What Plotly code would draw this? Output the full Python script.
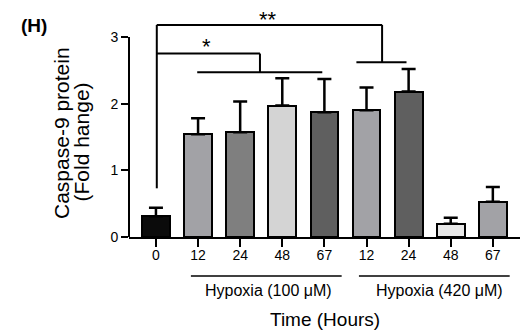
import plotly.graph_objects as go

# ---- data ----
tick_labels = ["0", "12", "24", "48", "67", "12", "24", "48", "67"]
means = [0.31, 1.54, 1.57, 1.97, 1.87, 1.90, 2.18, 0.20, 0.53]
err_up = [0.13, 0.24, 0.46, 0.41, 0.50, 0.34, 0.34, 0.09, 0.22]
bar_colors = ["#0b0b0b", "#a2a2a6", "#7f7f7f", "#d4d4d4", "#5f5f5f",
              "#a2a2a6", "#5f5f5f", "#e8e8e8", "#a2a2a6"]
groups = ["Hypoxia (100 μM)", "Hypoxia (420 μM)"]
group_span = [(0.83, 4.41), (4.82, 8.40)]
group_label_x = [2.68, 6.74]
# significance brackets: list of line segments (x0, y0, x1, y1) in data units
brackets_star2 = [(0.02, 3.18, 5.37, 3.18), (0.02, 3.18, 0.02, 0.73),
                  (5.37, 3.18, 5.37, 2.62), (4.76, 2.62, 5.95, 2.62)]
brackets_star1 = [(0.02, 2.75, 2.47, 2.75), (2.47, 2.75, 2.47, 2.47),
                  (0.98, 2.47, 3.95, 2.47)]
sig_labels = [("*", 1.21, 2.86), ("**", 2.66, 3.26)]

FONT = "Arial, Liberation Sans, Helvetica, sans-serif"
x = list(range(len(means)))

# page coords helpers (window px -> paper), body has 8px margin
PL, PR, PT, PB = 129, 524, 8, 237
def px(wx):
    return (wx - PL) / (PR - PL)
def py(wy):
    return (PB - wy) / (PB - PT)

fig = go.Figure()
fig.add_trace(go.Bar(
    x=x, y=means, width=0.66,
    marker=dict(color=bar_colors, line=dict(color="black", width=2)),
    error_y=dict(type="data", symmetric=False, array=err_up,
                 arrayminus=[0] * len(means), color="black",
                 thickness=2.5, width=7),
    showlegend=False,
))

shapes = []
for seg in brackets_star2 + brackets_star1:
    shapes.append(dict(type="line", xref="x", yref="y", x0=seg[0], y0=seg[1],
                       x1=seg[2], y1=seg[3], line=dict(color="black", width=2)))
# y-axis line from 0 to 3
shapes.append(dict(type="line", xref="paper", yref="y", x0=0, x1=0, y0=0, y1=3,
                   line=dict(color="black", width=2)))
for (a, b) in group_span:
    shapes.append(dict(type="line", xref="x", yref="paper", x0=a, x1=b,
                       y0=py(276), y1=py(276), line=dict(color="black", width=1.5)))

def txt(s, x_, y_, size, xref="paper", yref="paper", angle=0):
    return dict(text=s, x=x_, y=y_, xref=xref, yref=yref, showarrow=False,
                xanchor="center", yanchor="middle", textangle=angle,
                font=dict(size=size, family=FONT, color="black"))

annotations = []
for s, ax_, ay_ in sig_labels:
    annotations.append(txt(s, ax_, ay_, 22, "x", "y"))
for g, gx in zip(groups, group_label_x):
    annotations.append(txt(g, gx, py(290), 16, "x", "paper"))
annotations.append(txt("Time (Hours)", px(325), py(319), 19))
annotations.append(txt("<b>(H)</b>", px(34), py(26), 19))
annotations.append(txt("Caspase-9 protein", px(61), py(133), 21, angle=-90))
annotations.append(txt("(Fold hange)", px(81), py(142.5), 21, angle=-90))

fig.update_layout(
    width=520, height=323,
    margin=dict(l=PL - 8, r=528 - PR, t=PT - 8, b=331 - PB),
    paper_bgcolor="white", plot_bgcolor="white",
    font=dict(family=FONT, color="black"),
    bargap=0,
    shapes=shapes, annotations=annotations,
    xaxis=dict(range=[-0.64, 8.74], tickvals=x, ticktext=tick_labels,
               showline=True, linecolor="black", linewidth=2,
               ticks="outside", ticklen=8, tickwidth=2, tickcolor="black",
               ticklabelstandoff=-4,
               showgrid=False, zeroline=False, tickfont=dict(size=14, family=FONT)),
    yaxis=dict(range=[0, (PB - PT) / 66.7], tickvals=[0, 1, 2, 3], showline=False,
               ticks="outside", ticklen=7, tickwidth=2, tickcolor="black",
               showgrid=False, zeroline=False, tickfont=dict(size=14, family=FONT)),
)

fig.write_html("out.html")
